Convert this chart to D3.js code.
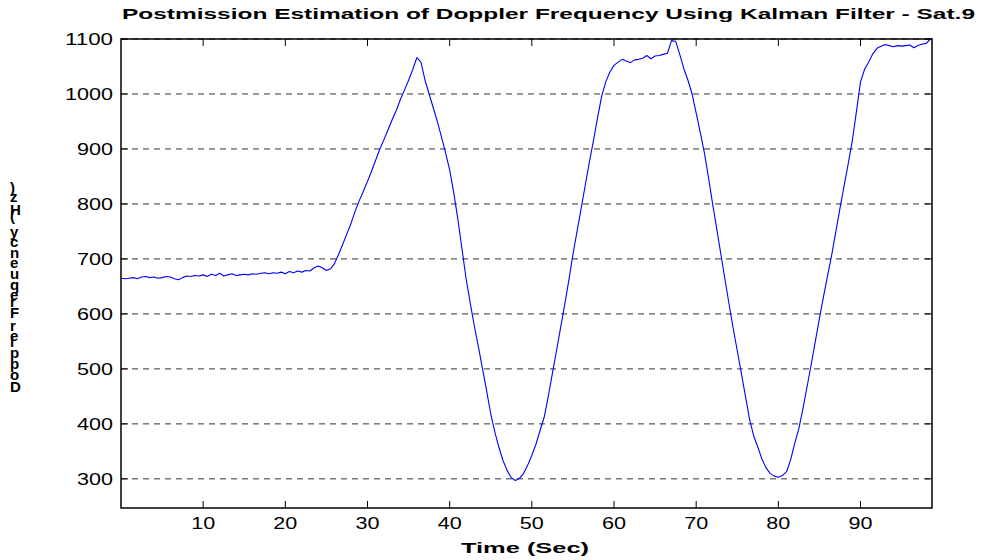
<!DOCTYPE html>
<html>
<head>
<meta charset="utf-8">
<script src="https://cdn.jsdelivr.net/npm/d3@7/dist/d3.min.js"></script>
<style>
  html, body { margin: 0; padding: 0; background: #fff; }
  svg { display: block; font-family: Arial, "Liberation Sans", sans-serif; }
</style>
</head>
<body>
<svg id="chart" width="982" height="560"></svg>
<script>
// Doppler frequency estimate (Hz), one sample every half second from t = 0
const sampleStep = 0.5;
const dopplerHz = [
  665, 664, 665, 666, 664, 667, 668, 666, 667, 665,
  666, 668, 667, 664, 662, 666, 669, 668, 670, 669,
  671, 668, 672, 670, 674, 669, 671, 673, 670, 671,
  672, 671, 673, 672, 674, 675, 673, 675, 674, 676,
  673, 677, 675, 678, 676, 679, 678, 684, 687, 684,
  679, 682, 692, 709, 727, 746, 765, 787, 806, 823,
  841, 860, 880, 900, 917, 935, 953, 970, 990, 1007,
  1025, 1044, 1066, 1058, 1025, 1000, 975, 950, 922, 893,
  862, 820, 772, 718, 664, 620, 578, 540, 500, 460,
  418, 385, 357, 333, 315, 302, 297, 301, 310, 325,
  343, 363, 388, 412, 450, 492, 533, 575, 617, 661,
  708, 750, 792, 834, 876, 915, 957, 996, 1022, 1040,
  1052, 1058, 1063, 1060, 1057, 1062, 1063, 1065, 1070, 1064,
  1069, 1070, 1072, 1074, 1097, 1096, 1072, 1046, 1025, 1000,
  965, 930, 893, 848, 800, 755, 709, 663, 618, 574,
  533, 492, 450, 408, 378, 358, 336, 320, 310, 305,
  303, 306, 313, 335, 365, 392, 428, 468, 508, 550,
  592, 632, 670, 708, 750, 792, 833, 873, 915, 968,
  1022, 1045, 1058, 1073, 1083, 1087, 1090, 1088, 1086, 1088,
  1087, 1088, 1089, 1084, 1088, 1091, 1092, 1100
];
const timeSec = dopplerHz.map((_, i) => i * sampleStep);

const xTicks = [10, 20, 30, 40, 50, 60, 70, 80, 90];
const yTicks = [300, 400, 500, 600, 700, 800, 900, 1000, 1100];
const xDomain = [0, 98.7];
const yDomain = [247, 1100];

const titleText = "Postmission  Estimation  of  Doppler  Frequency  Using  Kalman  Filter - Sat.9";
const xLabelText = "Time (Sec)";
const yLabelText = "Doppler Frequency (Hz)";

const box = { left: 121, right: 932, top: 39, bottom: 508 };
const svg = d3.select("#chart");

const x = d3.scaleLinear().domain(xDomain).range([box.left, box.right]);
const y = d3.scaleLinear().domain(yDomain).range([box.bottom, box.top]);

// dashed horizontal grid
svg.append("g")
  .selectAll("line")
  .data(yTicks)
  .join("line")
  .attr("x1", box.left).attr("x2", box.right)
  .attr("y1", d => y(d)).attr("y2", d => y(d))
  .attr("stroke", "#333")
  .attr("stroke-width", 1)
  .attr("stroke-dasharray", "6,5");

// inward ticks on all four sides
const tickLen = 7;
const ticks = svg.append("g").attr("stroke", "#000").attr("stroke-width", 1);
xTicks.forEach(t => {
  ticks.append("line").attr("x1", x(t)).attr("x2", x(t))
    .attr("y1", box.bottom).attr("y2", box.bottom - tickLen);
  ticks.append("line").attr("x1", x(t)).attr("x2", x(t))
    .attr("y1", box.top).attr("y2", box.top + tickLen);
});
yTicks.forEach(v => {
  ticks.append("line").attr("x1", box.left).attr("x2", box.left + tickLen)
    .attr("y1", y(v)).attr("y2", y(v));
  ticks.append("line").attr("x1", box.right).attr("x2", box.right - tickLen)
    .attr("y1", y(v)).attr("y2", y(v));
});

// data line
const line = d3.line()
  .x((d, i) => x(timeSec[i]))
  .y(d => y(d));
svg.append("path")
  .datum(dopplerHz)
  .attr("fill", "none")
  .attr("stroke", "#0000ff")
  .attr("stroke-width", 1.1)
  .attr("stroke-linejoin", "round")
  .attr("d", line);

// frame
svg.append("rect")
  .attr("x", box.left).attr("y", box.top)
  .attr("width", box.right - box.left).attr("height", box.bottom - box.top)
  .attr("fill", "none").attr("stroke", "#000").attr("stroke-width", 1.5);

// tick labels (wide face)
const digitW = 12;
svg.append("g")
  .selectAll("text")
  .data(yTicks)
  .join("text")
  .attr("x", 113)
  .attr("y", d => y(d) + 6)
  .attr("text-anchor", "end")
  .attr("font-size", 16)
  .attr("textLength", d => String(d).length * digitW)
  .attr("lengthAdjust", "spacingAndGlyphs")
  .text(d => d);

svg.append("g")
  .selectAll("text")
  .data(xTicks)
  .join("text")
  .attr("x", d => x(d))
  .attr("y", 529)
  .attr("text-anchor", "middle")
  .attr("font-size", 16)
  .attr("textLength", d => String(d).length * digitW)
  .attr("lengthAdjust", "spacingAndGlyphs")
  .text(d => d);

// title
svg.append("text")
  .attr("x", 122).attr("y", 19)
  .attr("font-size", 15).attr("font-weight", "bold")
  .attr("textLength", 853)
  .attr("lengthAdjust", "spacingAndGlyphs")
  .text(titleText);

// x label
svg.append("text")
  .attr("x", 461).attr("y", 553)
  .attr("font-size", 15).attr("font-weight", "bold")
  .attr("textLength", 128)
  .attr("lengthAdjust", "spacingAndGlyphs")
  .text(xLabelText);

// y label: baseline runs upward, each glyph turned back upright
svg.append("text")
  .attr("transform", "translate(10,392) rotate(-90)")
  .attr("x", 0).attr("y", 0)
  .attr("font-size", 15).attr("font-weight", "bold")
  .attr("rotate", 90)
  .attr("textLength", 204)
  .attr("lengthAdjust", "spacing")
  .text(yLabelText);
</script>
</body>
</html>
